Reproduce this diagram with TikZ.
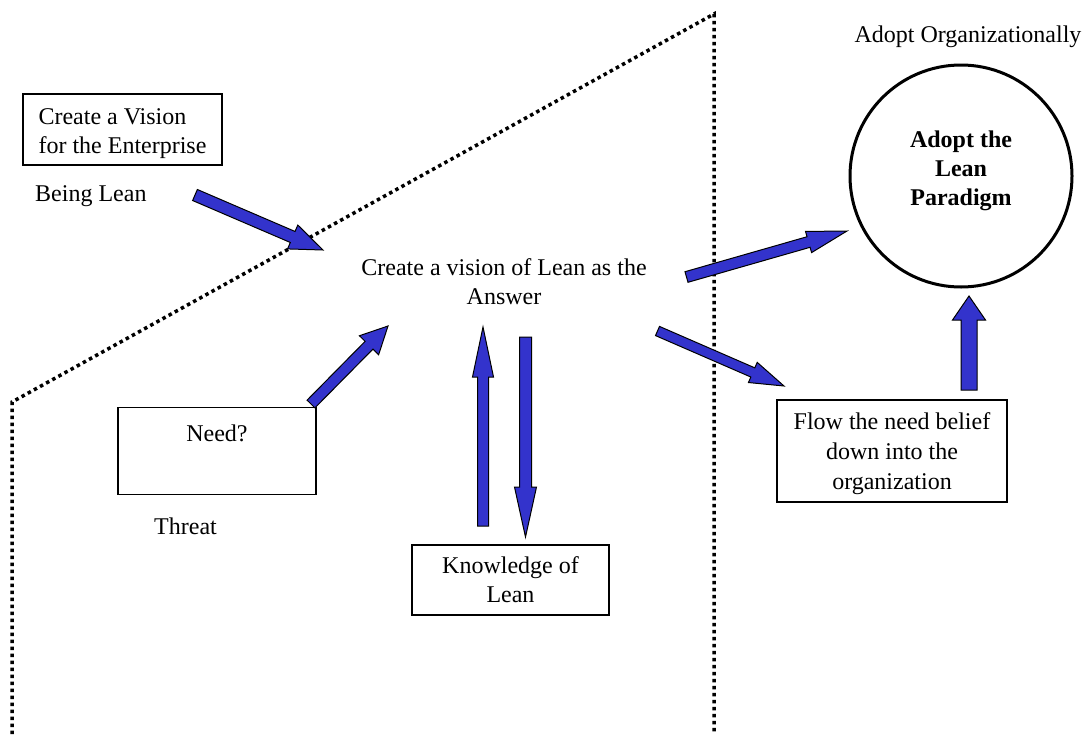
\documentclass[tikz,border=0pt]{standalone}
\usepackage{fontspec}
\setmainfont{Liberation Serif}
\usetikzlibrary{calc}
\definecolor{arrowblue}{RGB}{51,51,204}
\tikzset{
  box/.style={draw, line width=1.2pt, inner sep=0pt},
  plain text/.style={inner sep=0pt},
  dotline/.style={line width=3.5pt, dash pattern=on 3.5pt off 3.5pt},
  blockarrow/.style={fill=arrowblue, draw=black, line width=1pt, line join=miter},
}
% block arrow: tail, tip, half shaft width, half head width, head length
\newcommand\bigarrow[5]{%
  \coordinate (ah) at ($(#2)!#5!(#1)$);
  \draw[blockarrow] ($(#1)!#3!90:(#2)$) -- ($(ah)!#3!90:(#2)$) -- ($(ah)!#4!90:(#2)$)
    -- (#2) -- ($(ah)!#4!-90:(#2)$) -- ($(ah)!#3!-90:(#2)$) -- ($(#1)!#3!-90:(#2)$) -- cycle;}
% shift a block of text vertically without changing its reported size
\newcommand\liftby[2]{\raisebox{#1}[\height][\depth]{#2}}
\begin{document}
\begin{tikzpicture}[x=1pt, y=-1pt, every node/.style={font=\fontsize{24}{29}\selectfont}]
\useasboundingbox (0,0) rectangle (1089,734);

% dotted boundary
\coordinate (b1) at (12,734);
\coordinate (b2) at (12,402);
\coordinate (b3) at (714,14);
\coordinate (b4) at (714,734);
\draw[dotline] (b1) -- (b2) -- (b3) -- (b4);

% boxes and labels
\node[box, minimum width=199pt, minimum height=71pt] (vision) at (122.5,129.5)
  {\liftby{-4pt}{\begin{tabular}{@{}l@{}}Create a Vision\\for the Enterprise\end{tabular}}};
\node[plain text, anchor=west] (beinglean) at (35,196) {Being Lean};
\node[box, anchor=north, minimum width=198pt, text height=34pt, text depth=53pt] (need) at (217,407) {Need?};
\node[plain text, anchor=west] (threat) at (154,526) {Threat};
\node[plain text, align=center] (answer) at (504,282) {Create a vision of Lean as the\\Answer};
\node[box, minimum width=197pt, minimum height=70pt, align=center] (knowledge) at (510.5,580) {Knowledge of\\Lean};
\node[box, minimum width=230pt, minimum height=102pt] (flow) at (892,451)
  {\liftby{-3pt}{\parbox{220pt}{\centering\baselineskip=30pt Flow the need belief\\down into the\\organization}}};
\node[circle, draw, line width=3pt, minimum size=222pt, inner sep=0pt] (adopt) at (961,176)
  {\liftby{5pt}{\parbox{200pt}{\centering\bfseries Adopt the\\Lean\\Paradigm}}};
\node[plain text] (orgtitle) at (968,37) {Adopt Organizationally};

% block arrows
\coordinate (t1) at (195,195);   \coordinate (h1) at (323,250);
\coordinate (t2) at (311,404);   \coordinate (h2) at (388,326);
\coordinate (t3) at (483,526);   \coordinate (h3) at (483,327);
\coordinate (t4) at (525.5,337); \coordinate (h4) at (525.5,537);
\coordinate (t5) at (686.5,277); \coordinate (h5) at (847,231);
\coordinate (t6) at (657.5,331); \coordinate (h6) at (784,386);
\coordinate (t7) at (969,390);   \coordinate (h7) at (969,296);
\bigarrow{t1}{h1}{6pt}{13pt}{33pt}
\bigarrow{t2}{h2}{5.5pt}{13.5pt}{27pt}
\bigarrow{t3}{h3}{5.5pt}{10.5pt}{50pt}
\bigarrow{t4}{h4}{6pt}{11pt}{50pt}
\bigarrow{t5}{h5}{5.5pt}{11pt}{40pt}
\bigarrow{t6}{h6}{5pt}{11pt}{34pt}
\bigarrow{t7}{h7}{8pt}{16.5pt}{24pt}
\end{tikzpicture}
\end{document}
